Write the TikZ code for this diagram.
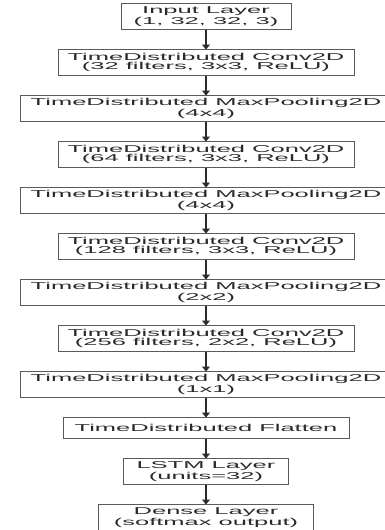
\documentclass[tikz,border=0pt]{standalone}
\usepackage{fontspec}
\usepackage{tikz}
\usetikzlibrary{arrows.meta,positioning}
\newfontfamily\layerfont{Liberation Sans}[FakeStretch=2.55]
\definecolor{edge}{HTML}{5A5A5A}
\definecolor{ink}{HTML}{2A2A2A}

\begin{document}
\begin{tikzpicture}[
    node distance=20pt,
    layer/.style={draw=edge, line width=0.8pt, fill=white, align=center,
                  inner xsep=6pt, inner ysep=1pt, outer sep=0pt, minimum height=26pt,
                  text=ink, font=\layerfont\fontsize{10}{9}\selectfont},
    conv/.style={layer, minimum width=296pt},
    pool/.style={layer, minimum width=372pt},
    arrow/.style={-{Triangle[length=5pt,width=8pt]}, line width=1.1pt, color=ink},
]
    \useasboundingbox (0,0) rectangle (384pt,-530pt);

    \node[layer, minimum width=170pt] (inp) at (206pt,-16.5pt) {Input Layer\\(1, 32, 32, 3)};
    \node[conv, below=of inp]   (conv1) {TimeDistributed Conv2D\\(32 filters, 3x3, ReLU)};
    \node[pool, below=of conv1] (pool1) {TimeDistributed MaxPooling2D\\(4x4)};
    \node[conv, below=of pool1] (conv2) {TimeDistributed Conv2D\\(64 filters, 3x3, ReLU)};
    \node[pool, below=of conv2] (pool2) {TimeDistributed MaxPooling2D\\(4x4)};
    \node[conv, below=of pool2] (conv3) {TimeDistributed Conv2D\\(128 filters, 3x3, ReLU)};
    \node[pool, below=of conv3] (pool3) {TimeDistributed MaxPooling2D\\(2x2)};
    \node[conv, below=of pool3] (conv4) {TimeDistributed Conv2D\\(256 filters, 2x2, ReLU)};
    \node[pool, below=of conv4] (pool4) {TimeDistributed MaxPooling2D\\(1x1)};
    \node[layer, below=of pool4, minimum width=286pt, minimum height=21pt] (flat) {TimeDistributed Flatten};
    \node[layer, below=of flat, minimum width=165pt]  (lstm)  {LSTM Layer\\(units=32)};
    \node[layer, below=of lstm, minimum width=215pt]  (dense) {Dense Layer\\(softmax output)};

    \draw[arrow] (inp)   -- (conv1);
    \draw[arrow] (conv1) -- (pool1);
    \draw[arrow] (pool1) -- (conv2);
    \draw[arrow] (conv2) -- (pool2);
    \draw[arrow] (pool2) -- (conv3);
    \draw[arrow] (conv3) -- (pool3);
    \draw[arrow] (pool3) -- (conv4);
    \draw[arrow] (conv4) -- (pool4);
    \draw[arrow] (pool4) -- (flat);
    \draw[arrow] (flat)  -- (lstm);
    \draw[arrow] (lstm)  -- (dense);
\end{tikzpicture}
\end{document}
